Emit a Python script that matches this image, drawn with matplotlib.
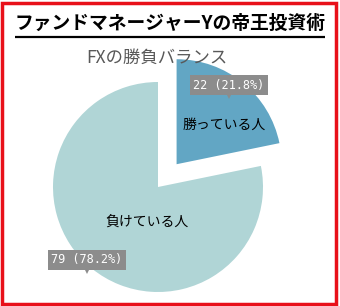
import matplotlib
matplotlib.use('Agg')
import matplotlib.pyplot as plt
from matplotlib.patches import Rectangle

plt.rcParams['font.family'] = ['Noto Sans CJK JP', 'DejaVu Sans']

# data
labels = ['勝っている人', '負けている人']
values = [22, 79]
colors = ['#62a6c4', '#b0d5d6']
header = 'ファンドマネージャーYの帝王投資術'
title = 'FXの勝負バランス'

total = sum(values)
pct_labels = ['%d (%.1f%%)' % (v, v * 100.0 / total) for v in values]

W, H = 340, 306
fig = plt.figure(figsize=(W / 100, H / 100), dpi=100)
ax = fig.add_axes([0, 0, 1, 1])

def Y(y):
    # image-style y (from top) -> data y
    return H - y

# pie
r = 105
ax.pie(values, colors=colors, startangle=90, counterclock=False,
       center=(158, Y(187)), radius=r, explode=[0.28 * r, 0],
       wedgeprops=dict(linewidth=0), frame=True)
ax.set_xlim(0, W)
ax.set_ylim(0, H)
ax.set_aspect('auto')
ax.axis('off')

# header + underline
ax.text(170, Y(23), header, ha='center', va='center', fontsize=13.5,
        fontweight='bold', color='black')
ax.plot([15, 325], [Y(37), Y(37)], color='black', lw=1.6, solid_capstyle='butt')

# chart title
ax.text(157, Y(58), title, ha='center', va='center', fontsize=12.5, color='#595959')

# category labels
ax.text(224, Y(125), labels[0], ha='center', va='center', fontsize=10, color='black')
ax.text(147, Y(222), labels[1], ha='center', va='center', fontsize=10, color='black')

# value callouts
callouts = [(229, 85), (87, 260)]
for (cx, cy), txt in zip(callouts, pct_labels):
    ax.text(cx, Y(cy), txt, ha='center', va='center', fontsize=8.6,
            family='DejaVu Sans Mono', color='white',
            bbox=dict(boxstyle='square,pad=0.3', fc='#8c8c8c', ec='none'))
    ax.plot(cx, Y(cy + 10), marker='v', color='#8c8c8c', markersize=5.5, markeredgewidth=0)

# red frame
fig.patches.append(Rectangle((0.006, 0.007), 0.982, 0.982, transform=fig.transFigure,
                             fill=False, ec='#e8101a', lw=2.5))

fig.savefig('out.png', dpi=100)
